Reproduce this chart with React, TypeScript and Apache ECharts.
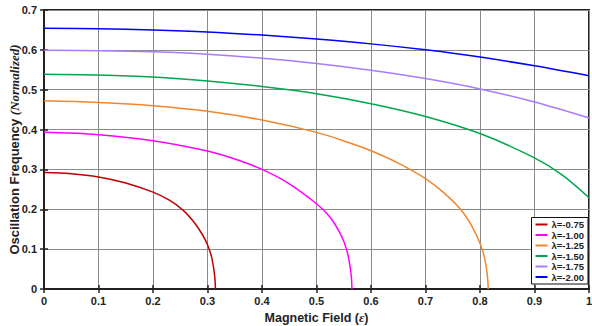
import React, { useEffect, useRef } from "react";
import * as echarts from "echarts";

const seriesNames = ["λ=-0.75", "λ=-1.00", "λ=-1.25", "λ=-1.50", "λ=-1.75", "λ=-2.00"];
const seriesColors = ["#c00000", "#ff00ff", "#f0862e", "#00a650", "#a97bff", "#0000ff"];

const lam075: [number, number][] = [
  [0, 0.292], [0.05, 0.289], [0.1, 0.281], [0.15, 0.266], [0.2, 0.243], [0.23, 0.223],
  [0.255, 0.198], [0.275, 0.168], [0.29, 0.138], [0.3, 0.111], [0.307, 0.083],
  [0.311, 0.055], [0.3135, 0.028], [0.3146, 0],
];
const lam100: [number, number][] = [
  [0, 0.393], [0.1, 0.387], [0.2, 0.372], [0.3, 0.346], [0.35, 0.326], [0.4, 0.3],
  [0.45, 0.264], [0.5, 0.214], [0.525, 0.18], [0.545, 0.135], [0.555, 0.1],
  [0.561, 0.062], [0.564, 0.03], [0.565, 0],
];
const lam125: [number, number][] = [
  [0, 0.472], [0.1, 0.468], [0.2, 0.46], [0.3, 0.446], [0.4, 0.424], [0.5, 0.393],
  [0.56, 0.367], [0.6, 0.347], [0.65, 0.316], [0.7, 0.277], [0.735, 0.24], [0.765, 0.199],
  [0.785, 0.158], [0.8, 0.115], [0.808, 0.08], [0.8125, 0.045], [0.8145, 0.018], [0.815, 0],
];
const lam150: [number, number][] = [
  [0, 0.539], [0.1, 0.537], [0.2, 0.532], [0.3, 0.522], [0.4, 0.508], [0.5, 0.49],
  [0.6, 0.465], [0.7, 0.433], [0.8, 0.39], [0.9, 0.329], [0.95, 0.287], [1, 0.229],
];
const lam175: [number, number][] = [
  [0, 0.599], [0.1, 0.598], [0.2, 0.595], [0.3, 0.589], [0.4, 0.579], [0.5, 0.566],
  [0.6, 0.549], [0.7, 0.528], [0.8, 0.502], [0.9, 0.469], [1, 0.429],
];
const lam200: [number, number][] = [
  [0, 0.654], [0.1, 0.653], [0.2, 0.65], [0.3, 0.645], [0.4, 0.637], [0.5, 0.627],
  [0.6, 0.615], [0.7, 0.6], [0.8, 0.582], [0.9, 0.56], [1, 0.535],
];
const allData = [lam075, lam100, lam125, lam150, lam175, lam200];

const FONT = "'Liberation Sans', Arial, Helvetica, sans-serif";
const AX = "#222";

export default function App() {
  const ref = useRef<HTMLDivElement>(null);
  useEffect(() => {
    if (!ref.current) return;
    const chart = echarts.init(ref.current, undefined, { renderer: "svg" });
    const labelStyle = { color: AX, fontFamily: FONT, fontWeight: "bold" as const, fontSize: 11 };
    const hiddenAxisBase = {
      axisLabel: { show: false },
      splitLine: { show: false },
      axisLine: { show: false },
      axisTick: { show: true, inside: true, length: 4, lineStyle: { color: AX, width: 1.5 } },
    };
    chart.setOption({
      animation: false,
      backgroundColor: "#fff",
      grid: {
        left: 44, right: 3, top: 10, bottom: 37,
        containLabel: false,
        outerBoundsMode: "none",
        show: true, borderColor: AX, borderWidth: 2, backgroundColor: "transparent",
      },
      legend: {
        data: seriesNames,
        orient: "vertical",
        right: 4, bottom: 42,
        padding: [2, 4, 2, 4],
        itemGap: 0.5,
        itemWidth: 12, itemHeight: 2,
        icon: "rect",
        backgroundColor: "#fff",
        borderColor: "#111", borderWidth: 1,
        textStyle: { color: AX, fontFamily: FONT, fontWeight: "bold", fontSize: 9.5, lineHeight: 10, padding: [0, 0, 0, -1] },
      },
      xAxis: [
        {
          type: "value", min: 0, max: 1, interval: 0.1,
          name: "Magnetic Field ({e|ε})",
          nameLocation: "middle", nameGap: 22,
          nameMoveOverlap: false,
          nameTextStyle: {
            ...labelStyle, fontSize: 12.5,
            rich: { e: { fontFamily: "'Liberation Serif', serif", fontStyle: "italic", fontSize: 13, color: AX } },
          },
          axisLine: { show: true, lineStyle: { color: AX, width: 2 } },
          axisTick: { show: true, inside: true, length: 4, lineStyle: { color: AX, width: 1.5 } },
          axisLabel: { ...labelStyle, margin: 6 },
          splitLine: { show: true, lineStyle: { color: "#8a8a8a", width: 1 } },
        },
        { type: "value", min: 0, max: 1, interval: 0.1, position: "top", ...hiddenAxisBase },
      ],
      yAxis: [
        {
          type: "value", min: 0, max: 0.7, interval: 0.1,
          name: "Oscillation Frequency {i|(Normalized)}",
          nameLocation: "middle", nameGap: 23,
          nameMoveOverlap: false,
          nameTextStyle: {
            ...labelStyle, fontSize: 13,
            rich: { i: { fontFamily: "'Liberation Serif', serif", fontStyle: "italic", fontSize: 13, color: AX } },
          },
          axisLine: { show: true, lineStyle: { color: AX, width: 2 } },
          axisTick: { show: true, inside: true, length: 4, lineStyle: { color: AX, width: 1.5 } },
          axisLabel: { ...labelStyle, margin: 7 },
          splitLine: { show: true, lineStyle: { color: "#8a8a8a", width: 1 } },
        },
        { type: "value", min: 0, max: 0.7, interval: 0.1, position: "right", ...hiddenAxisBase },
      ],
      series: allData.map((d, i) => ({
        name: seriesNames[i],
        type: "line",
        data: d,
        showSymbol: false,
        smooth: 0.35,
        lineStyle: { color: seriesColors[i], width: 1.5 },
        itemStyle: { color: seriesColors[i] },
        z: 3,
      })),
    });
    return () => chart.dispose();
  }, []);
  return <div ref={ref} style={{ width: 592, height: 326, position: "absolute", left: 0, top: 0 }} />;
}
